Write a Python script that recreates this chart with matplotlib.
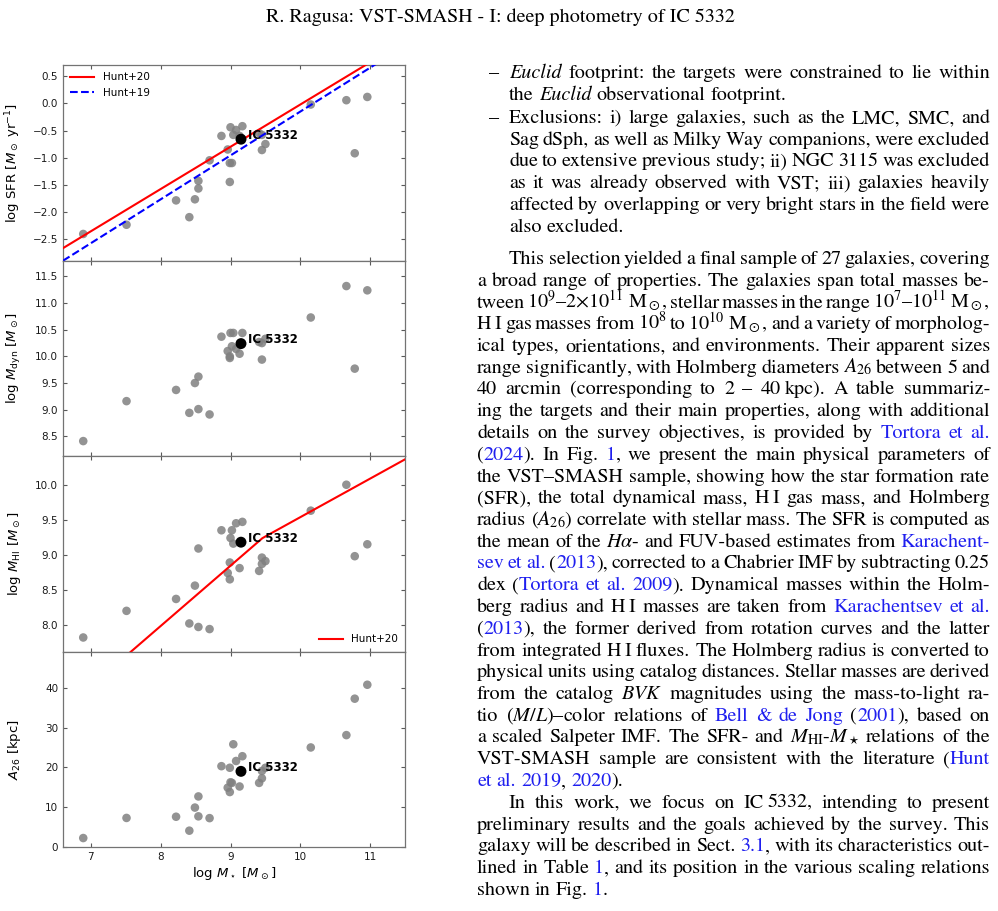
import numpy as np
import matplotlib
matplotlib.use('Agg')
import matplotlib.pyplot as plt
from matplotlib.transforms import IdentityTransform

# ---- data (26 comparison galaxies) ----
mstar = [6.89, 7.51, 8.22, 8.41, 8.49, 8.54, 8.54, 8.70, 8.87, 8.96, 8.99, 8.99, 9.00,
         9.02, 9.04, 9.08, 9.13, 9.17, 9.41, 9.45, 9.45, 9.50, 10.15, 10.66, 10.78, 10.96]
sfr = [-2.41, -2.24, -1.79, -2.10, -1.77, -1.43, -1.57, -1.05, -0.60, -0.85, -1.10, -1.45, -0.44,
       -1.10, -0.58, -0.49, -0.60, -0.42, -0.55, -0.86, -0.58, -0.75, -0.02, 0.06, -0.92, 0.12]
mdyn = [8.41, 9.16, 9.37, 8.94, 9.50, 9.62, 9.01, 8.91, 10.37, 10.10, 10.00, 9.97, 10.44,
        10.19, 10.44, 10.14, 10.05, 10.44, 10.27, 10.25, 9.94, 10.33, 10.73, 11.32, 9.77, 11.24]
mhi = [7.82, 8.20, 8.37, 8.02, 8.56, 9.09, 7.97, 7.94, 9.35, 8.74, 8.89, 8.65, 9.24,
       9.35, 9.16, 9.45, 8.81, 9.47, 8.77, 8.96, 8.87, 8.91, 9.63, 10.00, 8.98, 9.15]
a26 = [2.25, 7.3, 7.6, 4.1, 9.9, 12.7, 7.7, 7.25, 20.3, 14.9, 13.8, 19.9, 16.25,
       16.1, 25.8, 21.6, 15.2, 22.8, 16.1, 19.1, 17.25, 19.9, 25.0, 28.1, 37.25, 40.75]

# IC 5332
ic_mstar, ic_sfr, ic_mdyn, ic_mhi, ic_a26 = 9.15, -0.66, 10.24, 9.18, 19.0

# literature relations: (slope, value at log M* = 9)
hunt20_sfr = (0.78, -0.80)
hunt19_sfr = (0.81, -0.96)
# Hunt+20 HI relation: broken line (break mass, value at break, low slope, high slope)
hunt20_hi = (9.46, 9.24, 0.86, 0.55)

W, H = 998, 911
fig = plt.figure(figsize=(W / 100, H / 100), dpi=100)
gs = fig.add_gridspec(4, 1, left=63 / W, right=405 / W, top=1 - 65 / H, bottom=1 - 847 / H, hspace=0)
axs = [fig.add_subplot(gs[i]) for i in range(4)]

xlim = (6.6, 11.5)
xx = np.linspace(*xlim, 200)
gray_kw = dict(s=38, color='gray', alpha=0.85, edgecolors='none', zorder=2)
ic_kw = dict(s=62, color='black', edgecolors='none', zorder=5)

def label_ic(ax, x, y):
    ax.annotate('IC 5332', (x, y), xytext=(5, 3), textcoords='offset points',
                fontsize=8.5, fontweight='bold', ha='left', va='center', zorder=6)

# SFR
ax = axs[0]
ax.scatter(mstar, sfr, **gray_kw)
ax.plot(xx, hunt20_sfr[1] + hunt20_sfr[0] * (xx - 9), color='red', lw=1.5, label='Hunt+20', zorder=3)
ax.plot(xx, hunt19_sfr[1] + hunt19_sfr[0] * (xx - 9), color='blue', lw=1.5, ls='--', label='Hunt+19', zorder=3)
ax.scatter([ic_mstar], [ic_sfr], **ic_kw)
label_ic(ax, ic_mstar, ic_sfr)
ax.set_ylim(-2.9, 0.71)
ax.set_yticks(np.arange(-2.5, 0.51, 0.5))
ax.set_ylabel(r'log SFR [$M_\odot$ yr$^{-1}$]', fontsize=9.5)
ax.legend(loc='upper left', fontsize=7.5, frameon=False, handlelength=2.3, borderaxespad=0.3)

# Mdyn
ax = axs[1]
ax.scatter(mstar, mdyn, **gray_kw)
ax.scatter([ic_mstar], [ic_mdyn], **ic_kw)
label_ic(ax, ic_mstar, ic_mdyn)
ax.set_ylim(8.13, 11.8)
ax.set_yticks(np.arange(8.5, 11.51, 0.5))
ax.set_ylabel(r'log $M_{\rm dyn}$ [$M_\odot$]', fontsize=9.5)

# MHI
ax = axs[2]
ax.scatter(mstar, mhi, **gray_kw)
mb, yb, s1, s2 = hunt20_hi
ax.plot(xx, np.where(xx < mb, yb + s1 * (xx - mb), yb + s2 * (xx - mb)), color='red', lw=1.5,
        label='Hunt+20', zorder=3)
ax.scatter([ic_mstar], [ic_mhi], **ic_kw)
label_ic(ax, ic_mstar, ic_mhi)
ax.set_ylim(7.62, 10.41)
ax.set_yticks(np.arange(8.0, 10.01, 0.5))
ax.set_ylabel(r'log $M_{\rm HI}$ [$M_\odot$]', fontsize=9.5)
ax.legend(loc='lower right', fontsize=7.5, frameon=False, handlelength=2.3, borderaxespad=0.3)

# A26
ax = axs[3]
ax.scatter(mstar, a26, **gray_kw)
ax.scatter([ic_mstar], [ic_a26], **ic_kw)
label_ic(ax, ic_mstar, ic_a26)
ax.set_ylim(0, 49.1)
ax.set_yticks(np.arange(0, 41, 10))
ax.set_ylabel(r'$A_{26}$ [kpc]', fontsize=9.5)
ax.set_xlabel(r'log $M_\star$ [$M_\odot$]', fontsize=9.5, labelpad=2)

for i, ax in enumerate(axs):
    ax.set_xlim(*xlim)
    ax.set_xticks([7, 8, 9, 10, 11])
    ax.tick_params(direction='in', top=True, right=True, length=3, width=0.8,
                   color='0.35', labelsize=7.5, labelcolor='0.1')
    if i < 3:
        ax.tick_params(labelbottom=False)
    for sp in ax.spines.values():
        sp.set_color('0.45')
        sp.set_linewidth(0.9)
    ax.yaxis.set_label_coords(-0.118, 0.5)

# ---- page text ----
SERIF = 'STIXGeneral'
BODY_FS = 14.5
EM = BODY_FS * 100 / 72
LINK = '#1f1fef'
fig.text(500 / W, 1 - 17 / H, 'R. Ragusa: VST-SMASH - I: deep photometry of IC 5332',
         fontsize=BODY_FS, family=SERIF, ha='center', va='center')

renderer = fig.canvas.get_renderer()

# markup: «..» link colour, ‹..› italic, ~ thin space
def parse(line):
    words, cur, buf, style, in_math = [], [], '', 'n', False
    for ch in line:
        if ch == '$':
            in_math = not in_math
            buf += ch
            continue
        if in_math:
            buf += ch
            continue
        if ch in '«‹»›~ ' and buf:
            cur.append((buf, style))
            buf = ''
        if ch in '«‹':
            style = 'b' if ch == '«' else 'i'
        elif ch in '»›':
            style = 'n'
        elif ch == '~':
            cur.append(('', 'gap'))
        elif ch == ' ':
            if cur:
                words.append(cur)
                cur = []
        else:
            buf += ch
    if buf:
        cur.append((buf, style))
    if cur:
        words.append(cur)
    return words

def put(x, y, s, st='n'):
    kw = dict(fontsize=BODY_FS, family=SERIF, math_fontfamily='stix', ha='left',
              va='baseline', transform=IdentityTransform())
    if st == 'b':
        kw['color'] = LINK
    if st == 'i':
        kw['style'] = 'italic'
    return fig.text(x, y, s, **kw)

def draw_line(line, x0, x1, ytop, justify=True):
    yb = H - ytop
    words = parse(line)
    objs, widths = [], []
    for w in words:
        segs = []
        for s, st in w:
            if st == 'gap':
                segs.append((None, 0.18 * EM))
                continue
            t = put(0, yb, s, st)
            segs.append((t, t.get_window_extent(renderer).width))
        objs.append(segs)
        widths.append(sum(v for _, v in segs))
    space = 0.25 * EM
    if justify and len(words) > 1:
        space = (x1 - x0 - sum(widths)) / (len(words) - 1)
    x = x0
    for segs, wsum in zip(objs, widths):
        xs = x
        for t, v in segs:
            if t is not None:
                t.set_position((xs, yb))
            xs += v
        x += wsum + space

L, R = 477, 990
DASH, ITEM, INDENT = 489, 509, 509
PITCH = 21.75

bullets = [
    ['‹Euclid› footprint: the targets were constrained to lie within',
     'the ‹Euclid› observational footprint.'],
    ['Exclusions: i) large galaxies, such as the LMC, SMC, and',
     'Sag dSph, as well as Milky Way companions, were excluded',
     'due to extensive previous study; ii) NGC 3115 was excluded',
     'as it was already observed with VST; iii) galaxies heavily',
     'affected by overlapping or very bright stars in the field were',
     'also excluded.'],
]
bullet_tops = [78, 123]

para1 = [
    'This selection yielded a final sample of 27 galaxies, covering',
    'a broad range of properties. The galaxies span total masses be-',
    r'tween $10^9$–$2{\times}10^{11}$~M$_\odot$, stellar masses in the range $10^7$–$10^{11}$~M$_\odot$,',
    r'H~I gas masses from $10^8$ to $10^{10}$~M$_\odot$, and a variety of morpholog-',
    'ical types, orientations, and environments. Their apparent sizes',
    r'range significantly, with Holmberg diameters $A_{26}$ between 5 and',
    '40 arcmin (corresponding to 2 – 40~kpc). A table summariz-',
    'ing the targets and their main properties, along with additional',
    'details on the survey objectives, is provided by «Tortora et al.»',
    '(«2024»). In Fig. «1», we present the main physical parameters of',
    'the VST–SMASH sample, showing how the star formation rate',
    '(SFR), the total dynamical mass, H~I gas mass, and Holmberg',
    r'radius ($A_{26}$) correlate with stellar mass. The SFR is computed as',
    r'the mean of the $H\alpha$- and FUV-based estimates from «Karachent-»',
    '«sev et al.» («2013»), corrected to a Chabrier IMF by subtracting 0.25',
    'dex («Tortora et al. 2009»). Dynamical masses within the Holm-',
    'berg radius and H~I masses are taken from «Karachentsev et al.»',
    '(«2013»), the former derived from rotation curves and the latter',
    'from integrated H~I fluxes. The Holmberg radius is converted to',
    'physical units using catalog distances. Stellar masses are derived',
    r'from the catalog $BVK$ magnitudes using the mass-to-light ra-',
    r'tio ($M/L$)–color relations of «Bell & de Jong» («2001»), based on',
    r'a scaled Salpeter IMF. The SFR- and $M_\mathrm{HI}$-$M_\star$ relations of the',
    'VST-SMASH sample are consistent with the literature («Hunt»',
    '«et al. 2019», «2020»).',
]
para2 = [
    'In this work, we focus on IC~5332, intending to present',
    'preliminary results and the goals achieved by the survey. This',
    'galaxy will be described in Sect. «3.1», with its characteristics out-',
    'lined in Table «1», and its position in the various scaling relations',
    'shown in Fig. «1».',
]

for lines, top in zip(bullets, bullet_tops):
    put(DASH, H - top, '–')
    for k, ln in enumerate(lines):
        draw_line(ln, ITEM, R, top + k * PITCH, justify=(k < len(lines) - 1))

top = 264
for para in (para1, para2):
    for k, ln in enumerate(para):
        x0 = INDENT if k == 0 else L
        draw_line(ln, x0, R, top, justify=(k < len(para) - 1))
        top += PITCH

fig.savefig('out.png', dpi=100)
